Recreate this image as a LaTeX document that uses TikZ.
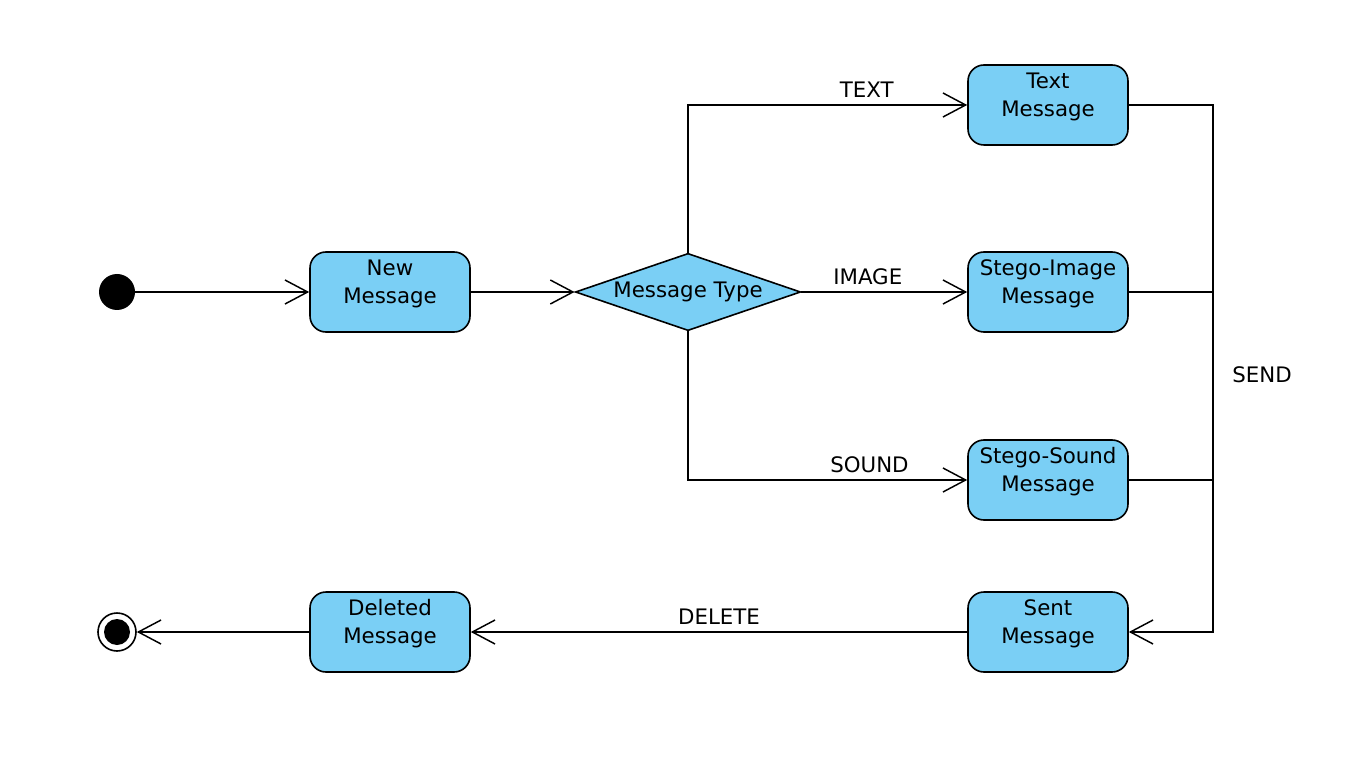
\documentclass[tikz,border=0pt]{standalone}
\usepackage{fontspec}
\setmainfont{DejaVu Sans}
\usetikzlibrary{shapes.geometric,arrows.meta}
\definecolor{statefill}{RGB}{122,207,245}
\begin{document}
\begin{tikzpicture}[x=0.75pt,y=-0.75pt,
  every node/.style={font=\fontsize{16}{21}\selectfont},
  statebox/.style={draw=black,line width=1.2pt,fill=statefill,rounded corners=12pt,
    minimum width=120pt,minimum height=60pt,inner sep=0pt},
  boxtext/.style={align=center,inner sep=0pt},
  conn/.style={line width=1.1pt,-{Straight Barb[length=17pt,width=18pt,line width=1.1pt]}},
  plain/.style={line width=1.1pt},
  lbl/.style={inner sep=5pt}]
\useasboundingbox (0,0) rectangle (1358,762);
% initial and final
\node[circle,fill=black,minimum size=27pt,inner sep=0pt] (init) at (117,292) {};
\node[circle,draw=black,line width=1.2pt,fill=white,minimum size=28.5pt,inner sep=0pt] (fin) at (117,632) {};
\node[circle,fill=black,minimum size=19.5pt,inner sep=0pt] (finin) at (117,632) {};
% states
\node[statebox] (new) at (390,292) {};
\node[boxtext] at (390,284) {New\\Message};
\node[statebox] (txt) at (1048,105) {};
\node[boxtext] at (1048,97) {Text\\Message};
\node[statebox] (img) at (1048,292) {};
\node[boxtext] at (1048,284) {Stego-Image\\Message};
\node[statebox] (snd) at (1048,480) {};
\node[boxtext] at (1048,472) {Stego-Sound\\Message};
\node[statebox] (sent) at (1048,632) {};
\node[boxtext] at (1048,624) {Sent\\Message};
\node[statebox] (del) at (390,632) {};
\node[boxtext] at (390,624) {Deleted\\Message};
% decision
\node[diamond,aspect=2.9,draw=black,line width=1.2pt,fill=statefill,minimum width=169pt,minimum height=58pt,inner sep=0pt] (dia) at (688,292) {Message Type};
% connectors
\draw[conn] (init) -- (new);
\draw[conn] (new) -- (dia.west);
\draw[conn] (dia.north) |- node[lbl,above,pos=0.82] {TEXT} (txt.west);
\draw[conn] (dia.east) -- node[lbl,above,pos=0.4] {IMAGE} (img.west);
\draw[conn] (dia.south) |- node[lbl,above,pos=0.825] {SOUND} (snd.west);
\coordinate (j) at (1213,632);
\draw[conn] (txt.east) -| (j) -- (sent.east);
\draw[plain] (img.east) -- (img.east -| j);
\draw[plain] (snd.east) -- (snd.east -| j);
\draw[line width=1.4pt] (snd.east -| j) -- (j);
\node (send) at (1262,375) {SEND};
\draw[conn] (sent.west) -- node[lbl,above] {DELETE} (del.east);
\draw[conn] (del.west) -- (fin);
\end{tikzpicture}
\end{document}
